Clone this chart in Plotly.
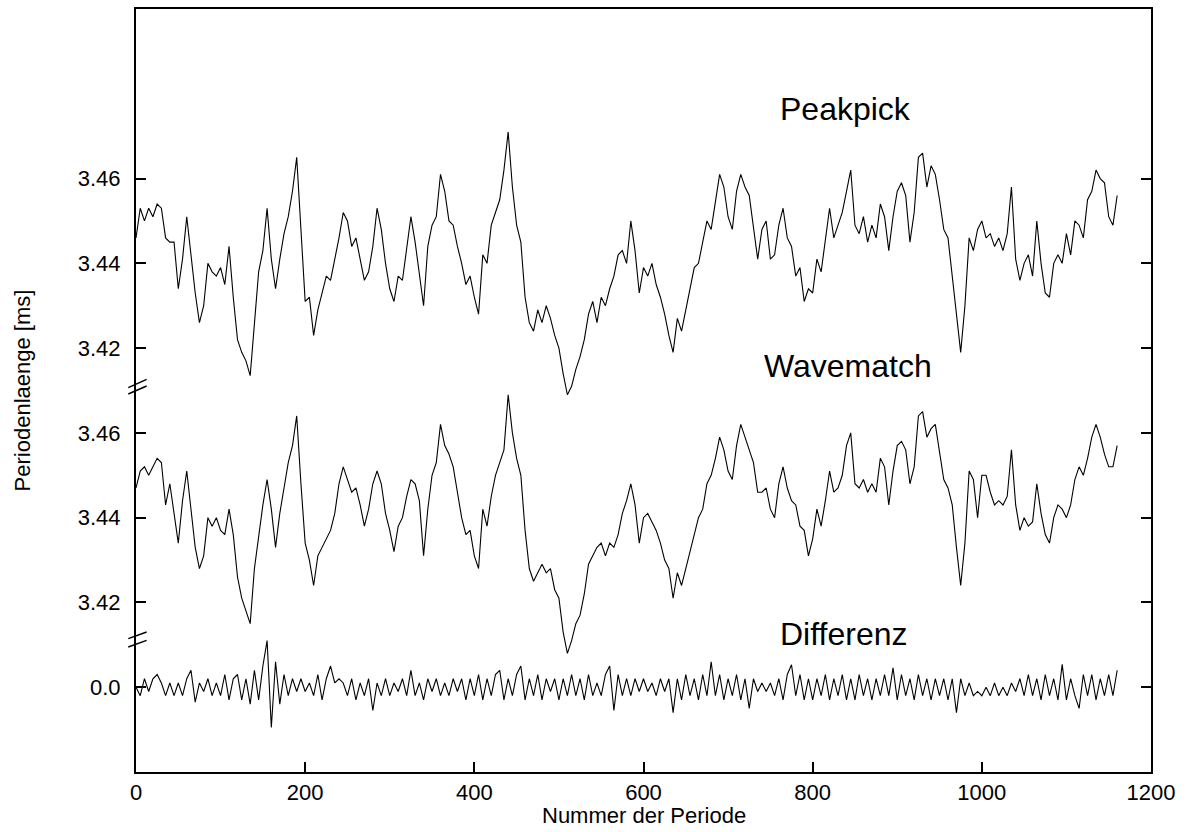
import plotly.graph_objects as go

# Period numbers, sampled every 5 periods
STEP = 5

# Period length from the peak-picking method [ms]
peakpick = [
    3.446, 3.453, 3.450, 3.453, 3.451, 3.454, 3.453, 3.446, 3.445, 3.445,
    3.434, 3.441, 3.451, 3.442, 3.433, 3.426, 3.430, 3.440, 3.438, 3.437,
    3.439, 3.435, 3.444, 3.432, 3.422, 3.419, 3.417, 3.4135, 3.425, 3.438,
    3.443, 3.453, 3.441, 3.434, 3.441, 3.447, 3.451, 3.457, 3.465, 3.448,
    3.431, 3.432, 3.423, 3.429, 3.433, 3.437, 3.436, 3.441, 3.446, 3.452,
    3.450, 3.444, 3.446, 3.441, 3.436, 3.438, 3.444, 3.453, 3.448, 3.440,
    3.434, 3.431, 3.437, 3.436, 3.444, 3.451, 3.445, 3.438, 3.430, 3.444,
    3.449, 3.451, 3.461, 3.457, 3.450, 3.449, 3.444, 3.440, 3.435, 3.437,
    3.432, 3.428, 3.442, 3.440, 3.449, 3.452, 3.455, 3.462, 3.471, 3.458,
    3.449, 3.445, 3.432, 3.426, 3.424, 3.429, 3.426, 3.430, 3.427, 3.423,
    3.420, 3.414, 3.409, 3.411, 3.415, 3.418, 3.422, 3.428, 3.431, 3.426,
    3.432, 3.430, 3.434, 3.437, 3.442, 3.443, 3.440, 3.450, 3.443, 3.433,
    3.439, 3.437, 3.440, 3.435, 3.432, 3.428, 3.423, 3.419, 3.427, 3.424,
    3.429, 3.434, 3.439, 3.440, 3.445, 3.450, 3.448, 3.455, 3.461, 3.458,
    3.451, 3.448, 3.457, 3.461, 3.458, 3.456, 3.449, 3.441, 3.448, 3.450,
    3.441, 3.442, 3.449, 3.453, 3.446, 3.444, 3.437, 3.439, 3.431, 3.434,
    3.433, 3.441, 3.438, 3.446, 3.453, 3.446, 3.449, 3.452, 3.457, 3.462,
    3.449, 3.447, 3.451, 3.445, 3.449, 3.446, 3.454, 3.451, 3.443, 3.451,
    3.457, 3.459, 3.456, 3.445, 3.452, 3.465, 3.466, 3.458, 3.463, 3.461,
    3.455, 3.448, 3.446, 3.437, 3.428, 3.419, 3.430, 3.446, 3.443, 3.448,
    3.450, 3.446, 3.447, 3.444, 3.446, 3.443, 3.447, 3.458, 3.441, 3.436,
    3.440, 3.442, 3.437, 3.450, 3.440, 3.433, 3.432, 3.440, 3.442, 3.440,
    3.447, 3.442, 3.450, 3.449, 3.446, 3.455, 3.457, 3.462, 3.460, 3.459,
    3.451, 3.449, 3.456,
]

# Period length from the wave-matching method [ms]
wavematch = [
    3.447, 3.451, 3.452, 3.450, 3.452, 3.454, 3.453, 3.443, 3.448, 3.441,
    3.434, 3.444, 3.451, 3.442, 3.433, 3.428, 3.431, 3.440, 3.438, 3.440,
    3.437, 3.436, 3.442, 3.436, 3.426, 3.421, 3.418, 3.415, 3.428, 3.436,
    3.443, 3.449, 3.442, 3.433, 3.441, 3.447, 3.453, 3.457, 3.464, 3.448,
    3.434, 3.430, 3.424, 3.431, 3.433, 3.435, 3.437, 3.441, 3.448, 3.452,
    3.449, 3.446, 3.447, 3.443, 3.438, 3.442, 3.448, 3.451, 3.448, 3.441,
    3.437, 3.432, 3.438, 3.440, 3.445, 3.449, 3.448, 3.444, 3.431, 3.442,
    3.450, 3.453, 3.462, 3.457, 3.455, 3.452, 3.446, 3.440, 3.436, 3.437,
    3.431, 3.428, 3.442, 3.438, 3.445, 3.450, 3.453, 3.456, 3.469, 3.460,
    3.454, 3.450, 3.437, 3.428, 3.425, 3.427, 3.429, 3.427, 3.428, 3.423,
    3.421, 3.413, 3.408, 3.411, 3.415, 3.417, 3.422, 3.429, 3.431, 3.433,
    3.434, 3.431, 3.434, 3.433, 3.436, 3.441, 3.444, 3.448, 3.443, 3.434,
    3.440, 3.441, 3.439, 3.437, 3.434, 3.430, 3.428, 3.421, 3.427, 3.424,
    3.428, 3.432, 3.436, 3.440, 3.442, 3.448, 3.450, 3.454, 3.459, 3.456,
    3.451, 3.449, 3.457, 3.462, 3.459, 3.456, 3.453, 3.446, 3.446, 3.447,
    3.442, 3.440, 3.448, 3.452, 3.447, 3.444, 3.443, 3.438, 3.437, 3.431,
    3.435, 3.442, 3.438, 3.444, 3.451, 3.446, 3.447, 3.450, 3.457, 3.460,
    3.448, 3.447, 3.449, 3.446, 3.448, 3.446, 3.454, 3.452, 3.443, 3.451,
    3.457, 3.458, 3.456, 3.448, 3.452, 3.464, 3.465, 3.459, 3.461, 3.462,
    3.455, 3.449, 3.447, 3.443, 3.433, 3.424, 3.434, 3.451, 3.449, 3.440,
    3.450, 3.450, 3.446, 3.443, 3.444, 3.443, 3.445, 3.456, 3.443, 3.437,
    3.440, 3.438, 3.439, 3.448, 3.441, 3.436, 3.434, 3.440, 3.443, 3.442,
    3.440, 3.443, 3.449, 3.452, 3.450, 3.454, 3.459, 3.462, 3.459, 3.455,
    3.452, 3.452, 3.457,
]

# Difference between both methods [ms]
differenz = [
    0.000, -0.002, 0.002, -0.001, 0.002, 0.003, 0.001, -0.002, 0.001, -0.002,
    0.001, -0.002, 0.002, 0.004, -0.0035, 0.001, -0.001, 0.002, -0.002, 0.001,
    -0.002, 0.003, -0.003, 0.002, 0.003, -0.003, 0.002, -0.004, 0.004, -0.003,
    0.005, 0.011, -0.0095, 0.006, -0.004, 0.003, -0.002, 0.002, -0.001, 0.002,
    -0.001, 0.001, -0.002, 0.003, -0.003, 0.002, 0.005, 0.001, 0.002, 0.001,
    -0.002, 0.002, -0.003, 0.001, -0.002, 0.002, -0.0055, 0.001, -0.002, 0.002,
    -0.002, 0.001, -0.001, 0.002, -0.002, 0.004, -0.002, 0.001, -0.003, 0.002,
    -0.001, 0.002, -0.002, 0.001, -0.002, 0.002, -0.001, 0.002, -0.003, 0.002,
    -0.002, 0.003, -0.003, 0.002, -0.002, 0.003, 0.004, -0.003, 0.002, -0.002,
    0.003, 0.005, -0.003, 0.002, -0.002, 0.003, -0.003, 0.002, -0.001, 0.002,
    -0.003, 0.002, -0.002, 0.003, -0.002, 0.002, -0.003, 0.003, -0.002, 0.001,
    -0.002, 0.003, 0.005, -0.0055, 0.003, -0.002, 0.002, -0.002, 0.002, -0.001,
    0.002, -0.001, 0.001, -0.002, 0.002, -0.001, 0.002, -0.006, 0.002, -0.003,
    0.003, -0.002, 0.002, -0.003, 0.003, -0.002, 0.006, -0.002, 0.003, -0.003,
    0.002, -0.002, 0.003, -0.003, 0.002, -0.005, 0.002, -0.001, 0.001, -0.001,
    0.001, -0.002, 0.002, -0.003, 0.003, 0.0053, -0.002, 0.003, -0.003, 0.002,
    -0.003, 0.002, -0.002, 0.003, -0.003, 0.002, -0.002, 0.003, -0.003, 0.002,
    -0.003, 0.003, -0.002, 0.002, -0.003, 0.002, -0.002, 0.003, -0.002, 0.0046,
    -0.003, 0.003, -0.002, 0.002, -0.003, 0.003, -0.002, 0.002, -0.003, 0.002,
    -0.002, 0.002, -0.003, 0.002, -0.006, 0.002, -0.002, 0.001, -0.002, -0.001,
    -0.002, 0.000, -0.002, 0.001, -0.002, 0.000, -0.002, 0.001, -0.001, 0.002,
    -0.002, 0.003, -0.002, 0.002, -0.003, 0.003, -0.002, 0.002, -0.003, 0.0054,
    -0.003, 0.002, -0.002, -0.005, 0.003, -0.002, 0.003, -0.003, 0.002, -0.002,
    0.003, -0.002, 0.004,
]

periods = [i * STEP for i in range(len(peakpick))]

# The three curves share one axis with a broken scale: each panel is shifted
PEAK_SHIFT = 3.34   # Peakpick 3.42 .. 3.46 -> 0.08 .. 0.12
WAVE_SHIFT = 3.40   # Wavematch 3.42 .. 3.46 -> 0.02 .. 0.06

x_ticks = [0, 200, 400, 600, 800, 1000, 1200]
y_tickvals = [0.0, 0.02, 0.04, 0.06, 0.08, 0.10, 0.12]
y_ticktext = ["0.0", "3.42", "3.44", "3.46", "3.42", "3.44", "3.46"]

FONT = "Liberation Sans, Arial, Helvetica, sans-serif"
line_style = dict(color="black", width=1.1)

fig = go.Figure()
fig.add_trace(go.Scatter(x=periods, y=[v - PEAK_SHIFT for v in peakpick],
                         mode="lines", line=line_style, name="Peakpick"))
fig.add_trace(go.Scatter(x=periods, y=[v - WAVE_SHIFT for v in wavematch],
                         mode="lines", line=line_style, name="Wavematch"))
fig.add_trace(go.Scatter(x=periods, y=differenz,
                         mode="lines", line=line_style, name="Differenz"))

# Curve labels
for text, xp, yp in [("Peakpick", 0.6995, 0.8686),
                     ("Wavematch", 0.701, 0.5327),
                     ("Differenz", 0.6975, 0.181)]:
    fig.add_annotation(text=text, x=xp, y=yp, xref="paper", yref="paper",
                       xanchor="center", yanchor="middle", showarrow=False,
                       font=dict(family=FONT, size=32, color="black"))

# x-axis title placed just under the tick labels
fig.add_annotation(text="Nummer der Periode", x=0.5, y=-0.0575,
                   xref="paper", yref="paper", xanchor="center", yanchor="middle",
                   showarrow=False, font=dict(family=FONT, size=22, color="black"))

# Axis break marks "//" on the left axis
for (y1a, y1b, y2a, y2b) in [(0.5037, 0.5146, 0.4954, 0.5059),
                             (0.1748, 0.1834, 0.1638, 0.1725)]:
    for ya, yb in [(y1a, y1b), (y2a, y2b)]:
        fig.add_shape(type="line", xref="paper", yref="paper",
                      x0=-0.0076, y0=ya, x1=0.0105, y1=yb,
                      line=dict(color="black", width=1.5))

fig.update_layout(
    width=1186, height=832,
    margin=dict(l=136, r=35, t=7, b=60),
    paper_bgcolor="white", plot_bgcolor="white",
    showlegend=False,
    font=dict(family=FONT, size=22, color="black"),
)

fig.update_xaxes(
    range=[0, 1200], tickvals=x_ticks,
    ticks="inside", ticklen=10, tickwidth=1.5, tickcolor="black",
    showline=True, linewidth=2, linecolor="black", mirror=True,
    showgrid=False, zeroline=False,
    tickfont=dict(family=FONT, size=22),
    ticklabelstandoff=0,
)

fig.update_yaxes(
    range=[-0.02, 0.16], tickvals=y_tickvals, ticktext=y_ticktext,
    ticks="inside", ticklen=10, tickwidth=1.5, tickcolor="black",
    showline=True, linewidth=2, linecolor="black", mirror="ticks",
    showgrid=False, zeroline=False,
    tickfont=dict(family=FONT, size=22),
    ticklabelstandoff=9,
    title=dict(text="Periodenlaenge [ms]", font=dict(family=FONT, size=22), standoff=41),
)

fig.write_html("out.html")
